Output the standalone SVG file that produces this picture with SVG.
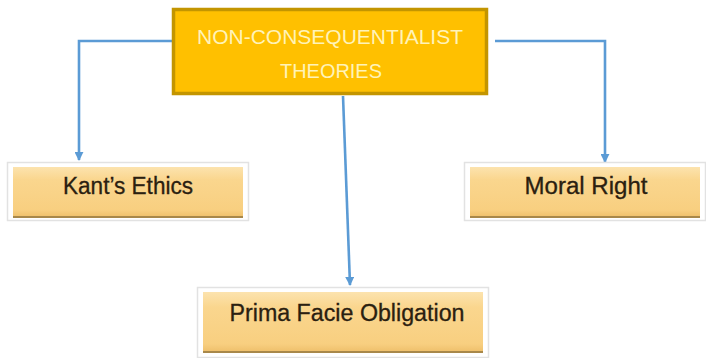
<svg xmlns="http://www.w3.org/2000/svg" width="706" height="358" viewBox="0 0 706 358">
<defs>
<linearGradient id="tan" x1="0" y1="0" x2="0" y2="1">
<stop offset="0" stop-color="#FCE3AE"/>
<stop offset="0.25" stop-color="#FAD68E"/>
<stop offset="0.85" stop-color="#F8CF80"/>
<stop offset="1" stop-color="#EDBD68"/>
</linearGradient>
<marker id="arr" viewBox="0 0 10 10" refX="9" refY="5" markerWidth="9" markerHeight="9" markerUnits="userSpaceOnUse" orient="auto">
<path d="M0,0 L10,5 L0,10 z" fill="#5B9BD5"/>
</marker>
</defs>
<style>
.conn{fill:none;stroke:#5B9BD5;stroke-width:2.6}
.frame{fill:#FFFFFF;stroke:#E2E2E2;stroke-width:1.5}
.box{fill:url(#tan)}
.shadow{fill:none;stroke:#A8884A;stroke-width:2}
.lbl{font-family:"Liberation Sans",Arial,sans-serif;font-size:23px;fill:#2A2010;text-anchor:middle;stroke:#2A2010;stroke-width:0.3}
.title{font-family:"Liberation Sans",Arial,sans-serif;font-size:21px;fill:#FFF3B8;text-anchor:middle}
</style>
<rect width="706" height="358" fill="#FFFFFF"/>
<g id="connectors">
<polyline class="conn" points="172,41 79,41 79,160" marker-end="url(#arr)"/>
<polyline class="conn" points="495,41 605,41 605,162" marker-end="url(#arr)"/>
<line class="conn" x1="343" y1="96" x2="350" y2="285" marker-end="url(#arr)"/>
</g>
<g id="root">
<rect x="173.5" y="9.5" width="313" height="84" fill="#FFC000" stroke="#C39500" stroke-width="3.5"/>
<text class="title" x="330" y="43.5" textLength="266" lengthAdjust="spacingAndGlyphs">NON-CONSEQUENTIALIST</text>
<text class="title" x="331" y="78" textLength="102" lengthAdjust="spacingAndGlyphs">THEORIES</text>
</g>
<g id="kant">
<rect class="frame" x="7.5" y="162.5" width="241" height="58"/>
<rect class="box" x="13" y="167" width="230" height="51"/>
<line class="shadow" x1="13" y1="217" x2="243" y2="217"/>
<text class="lbl" x="128" y="194" textLength="130" lengthAdjust="spacingAndGlyphs">Kant’s Ethics</text>
</g>
<g id="moral">
<rect class="frame" x="464.5" y="162.5" width="241" height="58"/>
<rect class="box" x="470" y="167" width="230" height="51"/>
<line class="shadow" x1="470" y1="217" x2="700" y2="217"/>
<text class="lbl" x="586" y="194" textLength="123" lengthAdjust="spacingAndGlyphs">Moral Right</text>
</g>
<g id="prima">
<rect class="frame" x="197.5" y="287.5" width="291" height="70"/>
<rect class="box" x="203" y="292" width="280" height="61"/>
<line class="shadow" x1="203" y1="352" x2="483" y2="352"/>
<text class="lbl" x="347" y="321" textLength="235" lengthAdjust="spacingAndGlyphs">Prima Facie Obligation</text>
</g>
</svg>
